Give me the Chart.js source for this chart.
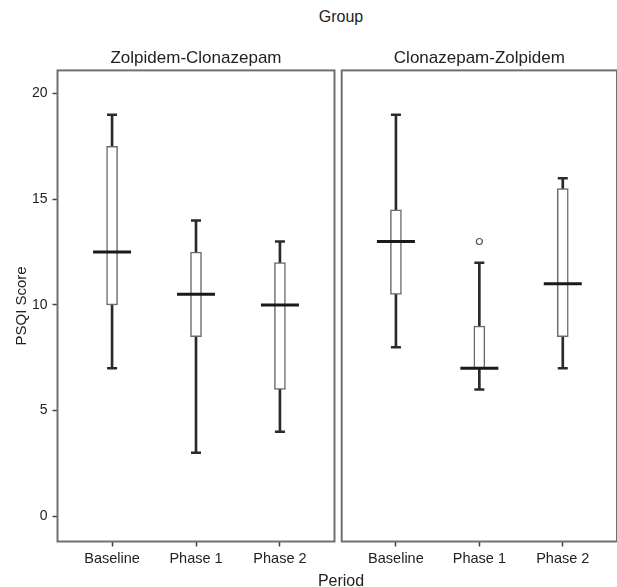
<!DOCTYPE html>
<html>
<head>
<meta charset="utf-8">
<script src="https://cdn.jsdelivr.net/npm/chart.js@4.4.1/dist/chart.umd.min.js"></script>
<style>
  html, body { margin: 0; padding: 0; background: #fff; }
  #wrap { position: relative; width: 617px; height: 587px; overflow: hidden; font-family: "Liberation Sans", Arial, sans-serif; color: #222; }
  .lbl { position: absolute; left: 0; width: 682px; text-align: center; font-size: 16px; line-height: 20px; }
  #leftChart { position: absolute; left: 0; top: 0; }
  #rightChart { position: absolute; left: 337px; top: 0; }
</style>
</head>
<body>
<div id="wrap">
  <div class="lbl" style="top:7px">Group</div>
  <canvas id="leftChart" width="337" height="587"></canvas>
  <canvas id="rightChart" width="280" height="587"></canvas>
  <div class="lbl" style="top:571px">Period</div>
</div>
<script>
// Données
const periods = ['Baseline', 'Phase 1', 'Phase 2'];
const groups = ['Zolpidem-Clonazepam', 'Clonazepam-Zolpidem'];
const yTicks = [0, 5, 10, 15, 20];

// Zolpidem-Clonazepam
const zcMin = [7, 3, 4];
const zcQ1 = [10, 8.5, 6];
const zcMedian = [12.5, 10.5, 10];
const zcQ3 = [17.5, 12.5, 12];
const zcMax = [19, 14, 13];
const zcOutliers = [[], [], []];

// Clonazepam-Zolpidem
const czMin = [8, 6, 7];
const czQ1 = [10.5, 7, 8.5];
const czMedian = [13, 7, 11];
const czQ3 = [14.5, 9, 15.5];
const czMax = [19, 12, 16];
const czOutliers = [[], [13], []];

Chart.defaults.font.family = '"Liberation Sans", Arial, sans-serif';
Chart.defaults.color = '#222';

// Cadre autour de chaque panneau
const panelBorder = {
  id: 'panelBorder',
  afterDraw(chart) {
    const { ctx, chartArea: a } = chart;
    ctx.save();
    ctx.strokeStyle = '#707070';
    ctx.lineWidth = 2;
    ctx.strokeRect(a.left, a.top, a.right - a.left, a.bottom - a.top);
    ctx.restore();
  }
};

function boxDatasets(mins, q1, med, q3, maxs, outliers) {
  const idx = periods.map((p, i) => i);
  const out = [];
  outliers.forEach((list, i) => list.forEach(v => out.push({ x: i, y: v })));
  return [
    {
      type: 'bar', label: 'whisker', order: 3, grouped: false,
      data: idx.map(i => ({ x: i, y: [mins[i], maxs[i]] })),
      backgroundColor: '#2a2a2a', barThickness: 2
    },
    {
      type: 'bar', label: 'box', order: 2, grouped: false,
      data: idx.map(i => ({ x: i, y: [q1[i], q3[i]] })),
      backgroundColor: '#fff', borderColor: '#6a6a6a', borderWidth: 1.5,
      borderSkipped: false, barThickness: 11
    },
    {
      type: 'scatter', label: 'caps', order: 1,
      data: idx.map(i => ({ x: i, y: mins[i] })).concat(idx.map(i => ({ x: i, y: maxs[i] }))),
      pointStyle: 'line', pointRadius: 5, borderWidth: 2.5, borderColor: '#2a2a2a'
    },
    {
      type: 'scatter', label: 'median', order: 0,
      data: idx.map(i => ({ x: i, y: med[i] })),
      pointStyle: 'line', pointRadius: 19, borderWidth: 3, borderColor: '#1a1a1a'
    },
    {
      type: 'scatter', label: 'outliers', order: 0,
      data: out,
      pointStyle: 'circle', pointRadius: 3, borderWidth: 1.2,
      borderColor: '#555', backgroundColor: '#fff'
    }
  ];
}

function makeOptions(title, showY, padding) {
  return {
    responsive: false,
    animation: false,
    events: [],
    layout: { padding: padding, autoPadding: false },
    plugins: {
      legend: { display: false },
      tooltip: { enabled: false },
      title: {
        display: true, text: title, fullSize: false,
        font: { size: 17, weight: 'normal' }, color: '#222',
        padding: { top: 8, bottom: 2 }
      }
    },
    scales: {
      x: {
        type: 'linear', min: -0.65, max: 2.65, offset: false,
        afterBuildTicks: s => { s.ticks = periods.map((p, i) => ({ value: i })); },
        afterFit: s => { s.height = 45.5; s.paddingLeft = 0; s.paddingRight = 0; },
        ticks: { callback: v => periods[v], font: { size: 14.5 }, padding: 4, maxRotation: 0 },
        grid: { display: true, offset: false, drawOnChartArea: false, tickLength: 5, tickColor: '#444', tickWidth: 1.5 },
        border: { display: false }
      },
      y: {
        display: showY,
        min: -1.2, max: 21.1,
        afterBuildTicks: s => { s.ticks = yTicks.map(v => ({ value: v })); },
        afterFit: s => { s.width = showY ? 57.5 : 0; s.paddingTop = 0; s.paddingBottom = 0; },
        ticks: { font: { size: 14 }, padding: 5 },
        grid: { display: true, drawOnChartArea: false, tickLength: 5, tickColor: '#444', tickWidth: 1.5 },
        border: { display: false },
        title: { display: true, text: 'PSQI Score', font: { size: 15 }, color: '#222', padding: { top: 13, bottom: 0 } }
      }
    }
  };
}

new Chart(document.getElementById('leftChart'), {
  type: 'bar',
  data: { datasets: boxDatasets(zcMin, zcQ1, zcMedian, zcQ3, zcMax, zcOutliers) },
  options: makeOptions(groups[0], true, { top: 40, left: 0, right: 2.5, bottom: 0 }),
  plugins: [panelBorder]
});

new Chart(document.getElementById('rightChart'), {
  type: 'bar',
  data: { datasets: boxDatasets(czMin, czQ1, czMedian, czQ3, czMax, czOutliers) },
  options: makeOptions(groups[1], false, { top: 40, left: 4.7, right: 0, bottom: 0 }),
  plugins: [panelBorder]
});
</script>
</body>
</html>
